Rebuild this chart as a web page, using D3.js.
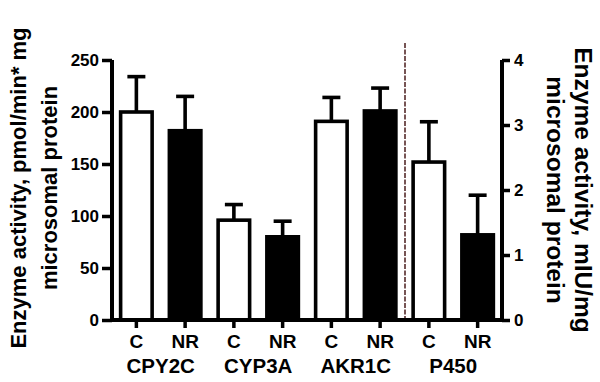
<!DOCTYPE html>
<html>
<head>
<meta charset="utf-8">
<script src="https://cdn.jsdelivr.net/npm/d3@7"></script>
<style>
  body { margin: 0; background: #fff; }
  text { font-family: "Liberation Sans", Arial, sans-serif; fill: #000; }
</style>
</head>
<body>
<svg id="chart"></svg>
<script>
//chart data
const groups = ["CPY2C", "CYP3A", "AKR1C", "P450"];
const conditions = ["C", "NR"];
const means = [200, 182, 96, 80, 191, 201, 2.43, 1.31];
const errTops = [234, 215, 111, 95, 214, 223, 3.05, 1.92];
const leftTicks = [0, 50, 100, 150, 200, 250];
const rightTicks = [0, 1, 2, 3, 4];

const width = 600, height = 382;

const svg = d3.select("#chart")
    .attr("width", width)
    .attr("height", height);

//one slot per bar, the last group uses the right axis
const slots = groups.flatMap(g => conditions.map(c => g + "|" + c));

const x = d3.scaleBand()
    .domain(slots)
    .range([112, 502])
    .paddingInner(0.28)
    .paddingOuter(0.14);

const yLeft = d3.scaleLinear().domain([0, 250]).range([320, 60]);
const yRight = d3.scaleLinear().domain([0, 4]).range([320, 60]);

const bars = slots.map((s, i) => ({
    key: s,
    group: s.split("|")[0],
    cond: s.split("|")[1],
    value: means[i],
    err: errTops[i]
}));
const yFor = d => d.group === "P450" ? yRight : yLeft;

const sw = 3.6;

//error bars (drawn first, bars cover the lower part)
const eb = svg.append("g");
eb.selectAll("line.stem")
    .data(bars)
    .join("line")
    .attr("x1", d => x(d.key) + x.bandwidth() / 2)
    .attr("x2", d => x(d.key) + x.bandwidth() / 2)
    .attr("y1", d => yFor(d)(d.value))
    .attr("y2", d => yFor(d)(d.err))
    .attr("stroke", "#000")
    .attr("stroke-width", sw);
eb.selectAll("line.cap")
    .data(bars)
    .join("line")
    .attr("x1", d => x(d.key) + x.bandwidth() / 2 - 9)
    .attr("x2", d => x(d.key) + x.bandwidth() / 2 + 9)
    .attr("y1", d => yFor(d)(d.err))
    .attr("y2", d => yFor(d)(d.err))
    .attr("stroke", "#000")
    .attr("stroke-width", sw);

//bars
svg.append("g")
    .selectAll("rect")
    .data(bars)
    .join("rect")
    .attr("x", d => x(d.key) + sw / 2)
    .attr("width", x.bandwidth() - sw)
    .attr("y", d => yFor(d)(d.value))
    .attr("height", d => 320 - yFor(d)(d.value))
    .attr("fill", d => d.cond === "C" ? "#fff" : "#000")
    .attr("stroke", "#000")
    .attr("stroke-width", sw);

//dashed separator
svg.append("line")
    .attr("x1", 405).attr("x2", 405)
    .attr("y1", 43).attr("y2", 320)
    .attr("stroke", "#4a1c1c")
    .attr("stroke-width", 1.5)
    .attr("stroke-dasharray", "5,1.5");

//axes
const leftAxis = svg.append("g")
    .attr("transform", "translate(112,0)")
    .call(d3.axisLeft(yLeft).tickValues(leftTicks).tickSize(10).tickPadding(3));
const rightAxis = svg.append("g")
    .attr("transform", "translate(502,0)")
    .call(d3.axisRight(yRight).tickValues(rightTicks).tickFormat(d3.format("d")).tickSize(8).tickPadding(4));
const xAxis = svg.append("g")
    .attr("transform", "translate(0,320)")
    .call(d3.axisBottom(x).tickSize(8).tickPadding(7).tickFormat(d => d.split("|")[1]));

[leftAxis, rightAxis, xAxis].forEach(a => {
    a.select(".domain").attr("stroke", "#000").attr("stroke-width", 4);
    a.selectAll(".tick line").attr("stroke", "#000").attr("stroke-width", 3.5);
    a.selectAll("text").attr("fill", "#000").attr("font-family", "Liberation Sans, Arial, sans-serif");
});
leftAxis.select(".domain").attr("d", "M0,60V320");
rightAxis.select(".domain").attr("d", "M0,60V320");
xAxis.select(".domain").attr("d", "M" + 110 + ",0H" + 504);
leftAxis.selectAll("text").attr("font-size", 17).attr("font-weight", "bold");
rightAxis.selectAll("text").attr("font-size", 17).attr("font-weight", "bold");
xAxis.selectAll("text").attr("font-size", 19).attr("font-weight", "bold");

//group labels
svg.append("g")
    .selectAll("text")
    .data(groups)
    .join("text")
    .attr("x", g => (x(g + "|C") + x(g + "|NR") + x.bandwidth()) / 2)
    .attr("y", 373)
    .attr("text-anchor", "middle")
    .attr("font-size", 20.5)
    .attr("font-weight", "bold")
    .text(g => g);

//axis titles
const leftTitle = svg.append("text")
    .attr("transform", "translate(18,188) rotate(-90)")
    .attr("text-anchor", "middle")
    .attr("font-size", 22)
    .attr("font-weight", "bold");
leftTitle.append("tspan").attr("x", 0).attr("dy", "0.35em").text("Enzyme activity, pmol/min* mg");
leftTitle.append("tspan").attr("x", 0).attr("dy", 31).text("microsomal protein");

const rightTitle = svg.append("text")
    .attr("transform", "translate(584,190) rotate(90)")
    .attr("text-anchor", "middle")
    .attr("font-size", 24.5)
    .attr("font-weight", "bold");
rightTitle.append("tspan").attr("x", 0).attr("dy", "0.35em").text("Enzyme activity, mIU/mg");
rightTitle.append("tspan").attr("x", 0).attr("dy", 28).text("microsomal protein");
</script>
</body>
</html>
